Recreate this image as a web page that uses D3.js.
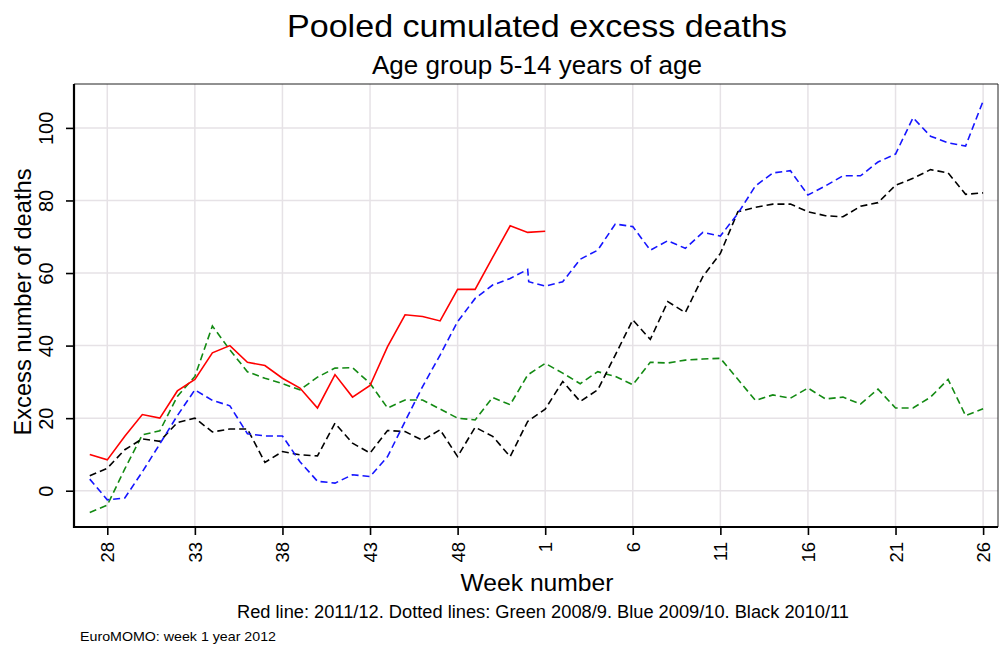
<!DOCTYPE html>
<html>
<head>
<meta charset="utf-8">
<script src="https://cdn.jsdelivr.net/npm/d3@7"></script>
<style>
  html, body { margin: 0; padding: 0; background: #fff; }
  svg { display: block; font-family: "Liberation Sans", Arial, sans-serif; }
</style>
</head>
<body>
<svg id="chart" width="1001" height="646"></svg>
<script>
// Week order of the season: 27..52 then 1..26
const weeksA = [27,28,29,30,31,32,33,34,35,36,37,38,39,40,41,42,43,44,45,46,47,48,49,50,51,52,
                1,2,3,4,5,6,7,8,9,10,11,12,13,14,15,16,17,18,19,20,21,22,23,24,25,26];
// Blue season 2009/10 has a week 53
const weeksBlue = [27,28,29,30,31,32,33,34,35,36,37,38,39,40,41,42,43,44,45,46,47,48,49,50,51,52,53,
                1,2,3,4,5,6,7,8,9,10,11,12,13,14,15,16,17,18,19,20,21,22,23,24,25,26];
const tickWeeks = [28,33,38,43,48,1,6,11,16,21,26];
const yTicks = [0,20,40,60,80,100];

// Red: 2011/12 (weeks 27..1)
const redValues = [10,8.5,15,21,20,27.5,30.7,38,40,35.4,34.5,31,28.3,22.8,32,25.8,29,39.7,48.5,48,46.8,55.5,55.5,64.3,73,71.2,71.5];
// Green: 2008/9
const greenValues = [-6,-4,6,15.4,16.5,26,31.5,45.4,38.8,32.8,31,29.5,27.8,31.3,33.8,33.9,29.6,22.8,25,25,22.5,20,19.5,25.7,23.7,31.9,
                     35.1,32.4,29.5,32.8,31.5,29.2,35.4,35.2,36,36.3,36.5,30.7,24.9,26.4,25.5,28.3,25.3,25.8,23.9,28,22.8,22.8,25.8,30.7,20.7,22.6];
// Blue: 2009/10 (includes week 53)
const blueValues = [3.2,-2.5,-2,5.2,12.9,20.7,27.8,24.9,23.4,15.7,15.1,15.1,8,2.6,2.1,4.4,3.9,9.4,19.1,28.7,37.4,46.6,53,56.7,58.5,61,57.6,
                    56.4,57.6,63.8,66.3,73.5,72.8,66.3,68.9,66.8,71.2,70.2,76.4,84,87.6,88.2,81.5,84,86.8,86.8,90.6,92.8,102.8,97.7,95.9,95,107.4];
// Black: 2010/11
const blackValues = [4.1,6.2,11.3,14.3,13.6,18.8,20,16.2,17,17,7.8,10.8,9.9,9.6,18.6,13.1,10.4,16.6,16.3,13.9,16.8,9.4,17.5,15,9.4,19.1,
                     22.5,30.1,24.6,27.8,37.4,47.1,41.7,52.1,49.1,59,65.4,76.9,78.1,79,79,76.9,75.8,75.5,78.4,79.4,84.2,86.1,88.5,87.6,81.7,82.1];

// position of a week in the season (week 53 sits just after week 52)
function seasonIndex(w) {
  if (w === 53) return 25.06;
  return w >= 27 ? w - 27 : w + 25;
}

const svg = d3.select("#chart");
const pL = 74, pR = 998, pT = 84, pB = 527;

const x = d3.scaleLinear().domain([-0.9, 51.85]).range([pL, pR]);
const y = d3.scaleLinear().domain([-10, 112.1]).range([pB, pT]);

const gridColor = "#e6e2e6";
// grid
svg.append("g").selectAll("line").data(tickWeeks).join("line")
  .attr("x1", d => x(seasonIndex(d))).attr("x2", d => x(seasonIndex(d)))
  .attr("y1", pT).attr("y2", pB)
  .attr("stroke", gridColor).attr("stroke-width", 1.5);
svg.append("g").selectAll("line").data(yTicks).join("line")
  .attr("x1", pL).attr("x2", pR)
  .attr("y1", d => y(d)).attr("y2", d => y(d))
  .attr("stroke", gridColor).attr("stroke-width", 1.5);

// frame: top and right thin
svg.append("line").attr("x1", pL).attr("x2", pR).attr("y1", pT).attr("y2", pT)
  .attr("stroke", "#222").attr("stroke-width", 1);
svg.append("line").attr("x1", pR).attr("x2", pR).attr("y1", pT).attr("y2", pB)
  .attr("stroke", "#222").attr("stroke-width", 1);

// lines
const line = d3.line().x(d => x(d[0])).y(d => y(d[1]));
function series(weeks, values) {
  return values.map((v, i) => [seasonIndex(weeks[i]), v]);
}
svg.append("clipPath").attr("id", "clip").append("rect")
  .attr("x", pL).attr("y", pT).attr("width", pR - pL).attr("height", pB - pT);
const lg = svg.append("g").attr("clip-path", "url(#clip)");
lg.append("path").datum(series(weeksA, greenValues)).attr("d", line)
  .attr("fill", "none").attr("stroke", "#138a13").attr("stroke-width", 1.6).attr("stroke-dasharray", "7,4");
lg.append("path").datum(series(weeksA, blackValues)).attr("d", line)
  .attr("fill", "none").attr("stroke", "#000").attr("stroke-width", 1.6).attr("stroke-dasharray", "7,4");
lg.append("path").datum(series(weeksBlue, blueValues)).attr("d", line)
  .attr("fill", "none").attr("stroke", "#1515ff").attr("stroke-width", 1.6).attr("stroke-dasharray", "7,4");
lg.append("path").datum(series(weeksA, redValues)).attr("d", line)
  .attr("fill", "none").attr("stroke", "#ff0000").attr("stroke-width", 1.6);

// x axis
const xAxis = d3.axisBottom(x).tickValues(tickWeeks.map(seasonIndex))
  .tickFormat((d, i) => tickWeeks[i]).tickSize(8).tickSizeOuter(0);
const gx = svg.append("g").attr("transform", `translate(0,${pB})`).call(xAxis);
gx.select(".domain").attr("stroke", "#000").attr("stroke-width", 2.2).attr("d", `M${pL - 1},0H${pR}`);
gx.selectAll(".tick line").attr("stroke", "#000").attr("stroke-width", 1.6);
gx.selectAll(".tick text")
  .attr("font-size", 18.5).attr("fill", "#000")
  .attr("transform", "rotate(-90)")
  .attr("x", -15).attr("y", 0).attr("dy", "0.35em")
  .attr("text-anchor", "end");

// y axis
const yAxis = d3.axisLeft(y).tickValues(yTicks).tickSize(8).tickSizeOuter(0);
const gy = svg.append("g").attr("transform", `translate(${pL},0)`).call(yAxis);
gy.select(".domain").attr("stroke", "#000").attr("stroke-width", 2.2).attr("d", `M0,${pT}V${pB + 1}`);
gy.selectAll(".tick line").attr("stroke", "#000").attr("stroke-width", 1.6);
gy.selectAll(".tick text")
  .attr("font-size", 20).attr("fill", "#000")
  .attr("transform", "rotate(-90)")
  .attr("x", 0).attr("y", -21).attr("dy", 0)
  .attr("text-anchor", "middle");

const cx = 537;
function label(txt, xx, yy, size, len, rot) {
  const t = svg.append("text").attr("text-anchor", "middle")
    .attr("font-size", size).attr("fill", "#000")
    .attr("textLength", len).attr("lengthAdjust", "spacingAndGlyphs").text(txt);
  if (rot) t.attr("transform", `translate(${xx},${yy}) rotate(-90)`);
  else t.attr("x", xx).attr("y", yy);
  return t;
}
// titles
label("Pooled cumulated excess deaths", cx, 37, 32, 500);
label("Age group 5-14 years of age", cx, 74, 25, 330);
label("Excess number of deaths", 31, 302, 24, 267, true);
label("Week number", cx, 591, 24, 153);
label("Red line: 2011/12. Dotted lines: Green 2008/9. Blue 2009/10. Black 2010/11", 543, 618, 17.5, 612);
svg.append("text").attr("x", 80).attr("y", 641)
  .attr("font-size", 13).attr("fill", "#000")
  .attr("textLength", 196).attr("lengthAdjust", "spacingAndGlyphs")
  .text("EuroMOMO: week 1 year 2012");
</script>
</body>
</html>
